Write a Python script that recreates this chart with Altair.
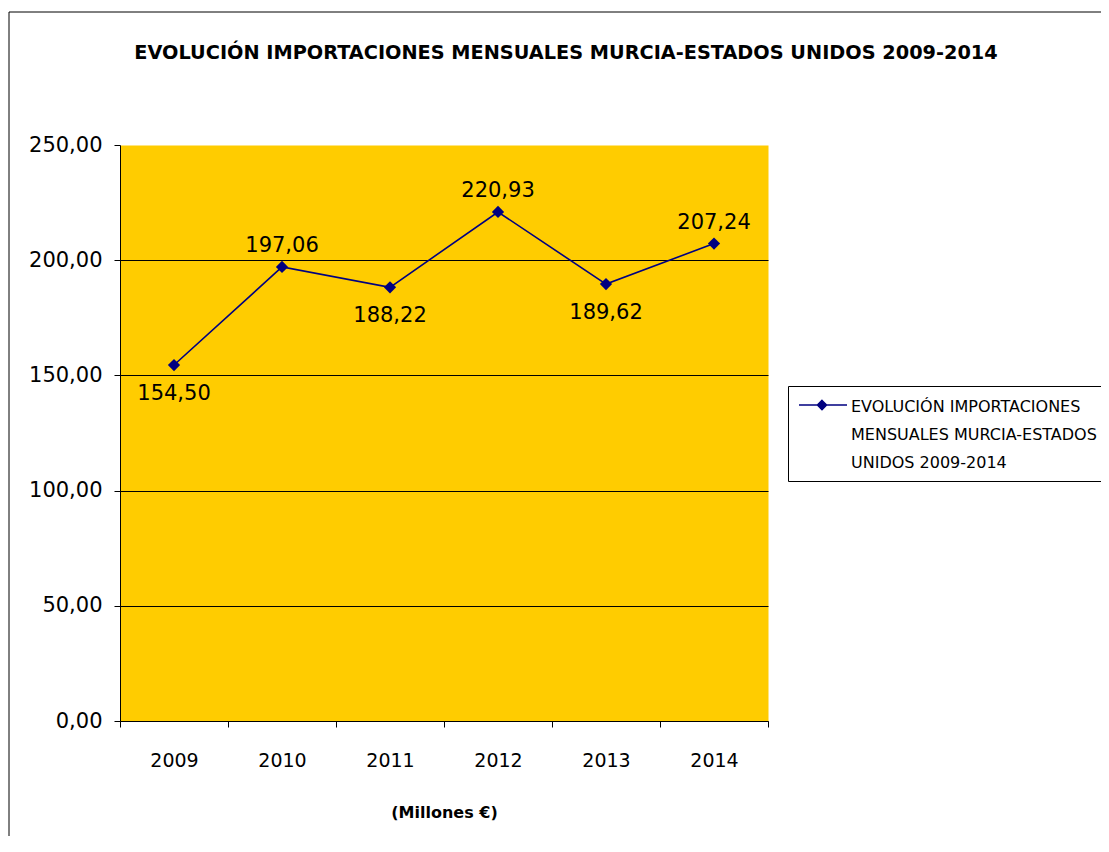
import altair as alt
import pandas as pd

# ---- data ----
years = ["2009", "2010", "2011", "2012", "2013", "2014"]
values = [154.50, 197.06, 188.22, 220.93, 189.62, 207.24]
value_labels = ["154,50", "197,06", "188,22", "220,93", "189,62", "207,24"]
label_side = ["below", "above", "below", "above", "below", "above"]
y_ticks = [0, 50, 100, 150, 200, 250]
series_lines = ["EVOLUCIÓN IMPORTACIONES", "MENSUALES MURCIA-ESTADOS", "UNIDOS 2009-2014"]
title_text = "EVOLUCIÓN IMPORTACIONES MENSUALES MURCIA-ESTADOS UNIDOS 2009-2014"
x_title = "(Millones €)"

series_name = "\n".join(series_lines)
df = pd.DataFrame({
    "year": years,
    "value": values,
    "label": value_labels,
    "side": label_side,
    "series": [series_name] * len(years),
})

FONT = "DejaVu Sans"
NAVY = "#000080"

x_enc = alt.X(
    "year:O",
    scale=alt.Scale(type="band", paddingInner=0, paddingOuter=0),
    bandPosition=0.5,
    title=x_title,
    axis=alt.Axis(
        labelAngle=0, tickBand="extent", tickSize=6, tickColor="black",
        domainColor="black", labelFont=FONT, labelFontSize=19, labelColor="black",
        labelPadding=24, titleFont=FONT, titleFontSize=16, titleFontWeight="bold",
        titleColor="black", titlePadding=34,
    ),
)
y_enc = alt.Y(
    "value:Q",
    scale=alt.Scale(domain=[0, 250], nice=False),
    title=None,
    axis=alt.Axis(
        values=y_ticks, tickSize=6, tickColor="black", domainColor="black",
        labelExpr="replace(format(datum.value, '.2f'), '.', ',')",
        labelFont=FONT, labelFontSize=21, labelColor="black", labelPadding=12,
        grid=True, gridColor="black", gridWidth=1,
        gridOpacity={"condition": {"test": "datum.value == 250", "value": 0}, "value": 1},
    ),
)

base = alt.Chart(df)

line = base.mark_line(color=NAVY, strokeWidth=1.6).encode(x=x_enc, y=y_enc)

points = base.mark_point(shape="diamond", filled=True, size=150, opacity=1).encode(
    x=x_enc,
    y=y_enc,
    color=alt.Color(
        "series:N",
        scale=alt.Scale(range=[NAVY]),
        legend=alt.Legend(
            title=None, orient="none", legendX=668, legendY=241,
            labelExpr="split(datum.label, '\\n')",
            labelFont=FONT, labelFontSize=16, labelColor="black", labelLimit=600,
            labelBaseline="middle", labelOffset=31,
            symbolType="M-1,-0.2H3.8M1.3,-0.65L1.75,-0.2L1.3,0.25L0.85,-0.2Z",
            symbolSize=400, symbolStrokeColor=NAVY, symbolFillColor=NAVY,
            symbolStrokeWidth=1.6,
            strokeColor="black", padding=10, fillColor="white",
        ),
    ),
)

labels_above = base.transform_filter(alt.datum.side == "above").mark_text(
    font=FONT, fontSize=21, color="black", baseline="bottom", dy=-11
).encode(x=x_enc, y=y_enc, text="label:N")

labels_below = base.transform_filter(alt.datum.side == "below").mark_text(
    font=FONT, fontSize=21, color="black", baseline="top", dy=18
).encode(x=x_enc, y=y_enc, text="label:N")

border_df = pd.DataFrame({"k": [0]})
border_left = alt.Chart(border_df).mark_rule(color="black", strokeWidth=1).encode(
    x=alt.value(-111), y=alt.value(-133), y2=alt.value(900)
)
border_top = alt.Chart(border_df).mark_rule(color="black", strokeWidth=1).encode(
    x=alt.value(-111), x2=alt.value(1300), y=alt.value(-133)
)

chart = alt.layer(
    line, points, labels_above, labels_below, border_left, border_top
).properties(
    width=648,
    height=576,
    autosize=alt.AutoSizeParams(type="none"),
    padding={"left": 112, "top": 137, "right": 333, "bottom": 115},
    title=alt.TitleParams(
        title_text, font=FONT, fontSize=19.3, fontWeight="bold", color="black",
        anchor="middle", dx=122, baseline="alphabetic", offset=-67,
    ),
).configure(
    background="white",
    style={"guide-label": {"lineHeight": 28}},
    view=alt.ViewConfig(fill="#FFCC00", stroke="transparent"),
)

chart.save("out.html", embed_options={"renderer": "svg", "actions": False})
